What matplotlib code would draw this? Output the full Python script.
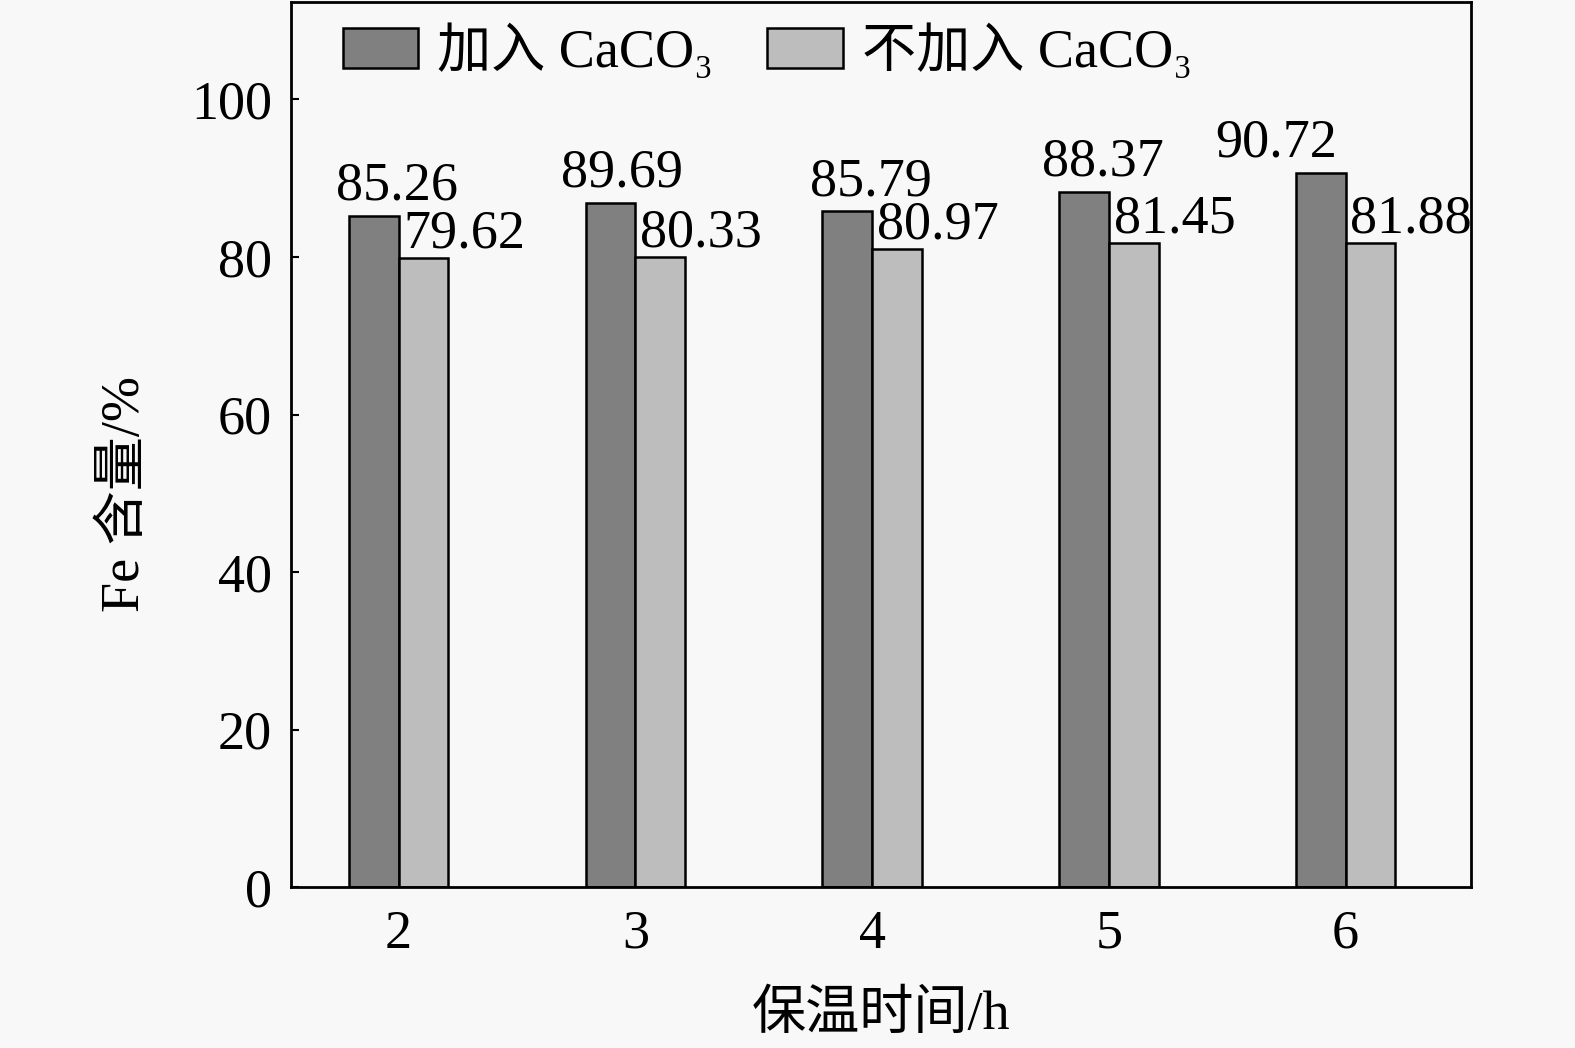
import matplotlib
matplotlib.use("Agg")
import matplotlib.pyplot as plt
import numpy as np

plt.rcParams['font.family'] = ['Liberation Serif', 'Noto Sans CJK SC', 'DejaVu Serif']
plt.rcParams['axes.unicode_minus'] = False

# data
hours = [2, 3, 4, 5, 6]
with_caco3 = [85.2, 86.9, 85.8, 88.3, 90.7]       # bar heights as drawn
without_caco3 = [79.9, 80.0, 81.0, 81.8, 81.8]
with_labels = ['85.26', '89.69', '85.79', '88.37', '90.72']
without_labels = ['79.62', '80.33', '80.97', '81.45', '81.88']
series_names = ['加入 CaCO₃', '不加入 CaCO₃']

fig = plt.figure(figsize=(15.75, 10.48), dpi=100, facecolor='#f8f8f8')
ax = fig.add_axes([0.185, 0.1534, 0.749, 0.845])
ax.set_facecolor('#f8f8f8')

x = np.array(hours, dtype=float)
w = 0.21
ax.bar(x - w / 2, with_caco3, w, color='#808080', edgecolor='black', linewidth=1.8, label=series_names[0])
ax.bar(x + w / 2, without_caco3, w, color='#bdbdbd', edgecolor='black', linewidth=1.8, label=series_names[1])

fs = 39
# dark labels roughly centred over bar, last one pulled left in the original
dark_dx = [0.1, 0.05, 0.1, 0.08, -0.19]
for xi, h, t, dx in zip(x, with_caco3, with_labels, dark_dx):
    ax.annotate(t, (xi - w / 2 + dx, h), xytext=(0, 3), textcoords='offset points',
                ha='center', va='bottom', fontsize=fs)
for xi, h, t in zip(x, without_caco3, without_labels):
    ax.annotate(t, (xi + 0.02, h), xytext=(0, -1), textcoords='offset points',
                ha='left', va='bottom', fontsize=fs)

ax.set_xlim(1.547, 6.53)
ax.set_ylim(0, 112.4)
ax.set_xticks(hours)
ax.set_yticks([0, 20, 40, 60, 80, 100])
ax.tick_params(axis='x', length=0, pad=16, labelsize=fs)
ax.tick_params(axis='y', direction='in', length=6, width=1.5, pad=14, labelsize=fs)
for s in ax.spines.values():
    s.set_linewidth(2)

ax.set_xlabel('保温时间/h', fontsize=fs, labelpad=22)
ax.set_ylabel('Fe 含量/%', fontsize=fs)
ax.yaxis.set_label_coords(-0.119, 0.444)

ax.legend(loc='upper left', bbox_to_anchor=(0.025, 1.0), ncol=2, frameon=False,
          fontsize=fs, handlelength=1.4, handleheight=0.75, handletextpad=0.35,
          columnspacing=1.0, borderaxespad=0.0)

fig.savefig('out.png', dpi=100, facecolor=fig.get_facecolor())
